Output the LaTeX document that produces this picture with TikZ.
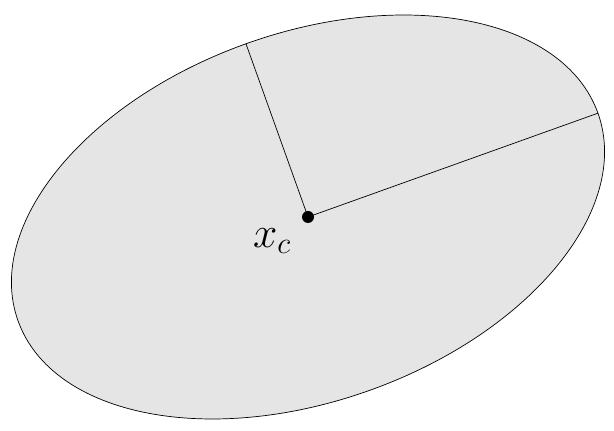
\documentclass[tikz,border=0pt]{standalone}
\begin{document}
\begin{tikzpicture}[x=0.02cm,y=0.02cm]
  \tikzset{
    region/.style={draw=black, fill=gray!20},
    centre/.style={circle, fill=black, inner sep=0pt, minimum size=0.24cm},
    axis/.style={draw=black}
  }
  \useasboundingbox (0,0) rectangle (614,431);
  \coordinate (c) at (308,214);
  \draw[region, rotate around={19.7:(c)}] (c) ellipse (308 and 184);
  \path
    (c) ++(19.7:308) coordinate (major)
    (c) ++(109.7:184) coordinate (minor);
  \begin{scope}[axis]
    \draw (c) to (major);
    \draw (c) to (minor);
  \end{scope}
  \node[centre] (xc) at (c) {};
  \node[font=\fontsize{26}{30}\selectfont] (lbl) at (272,190) {$x_c$};
\end{tikzpicture}
\end{document}
